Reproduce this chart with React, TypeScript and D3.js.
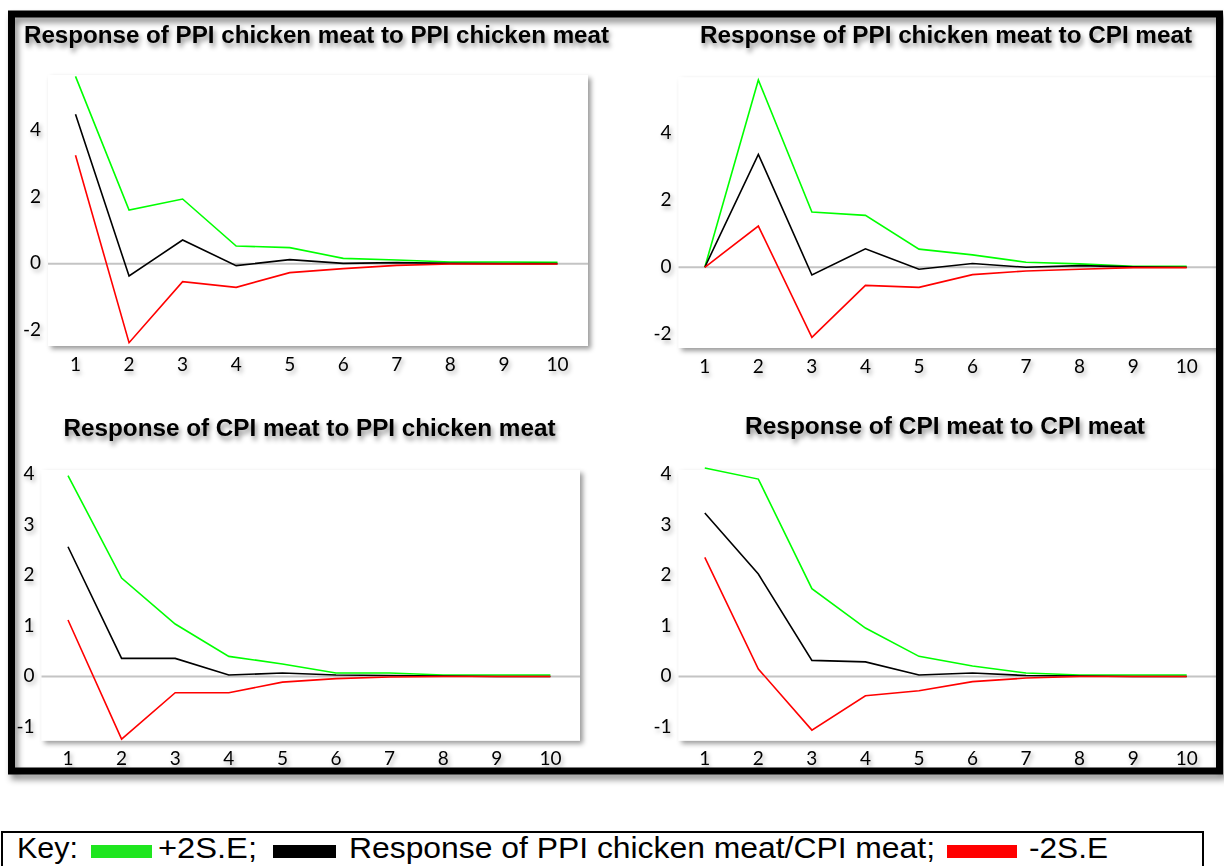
import React from "react";
import * as d3 from "d3";

// Forecast horizon (periods)
const periods = [1, 2, 3, 4, 5, 6, 7, 8, 9, 10];

// Response of PPI chicken meat to PPI chicken meat
const ppiPpiUpper = [5.62, 1.61, 1.94, 0.53, 0.48, 0.16, 0.11, 0.05, 0.05, 0.04];
const ppiPpiResponse = [4.48, -0.37, 0.71, -0.06, 0.12, 0.01, 0.03, 0.01, 0.0, 0.0];
const ppiPpiLower = [3.25, -2.37, -0.54, -0.71, -0.27, -0.15, -0.05, -0.01, -0.01, -0.01];

// Response of PPI chicken meat to CPI meat
const ppiCpiUpper = [0, 5.59, 1.65, 1.55, 0.54, 0.37, 0.15, 0.1, 0.03, 0.03];
const ppiCpiResponse = [0, 3.37, -0.23, 0.55, -0.06, 0.11, 0.0, 0.05, 0.01, 0.0];
const ppiCpiLower = [0, 1.23, -2.09, -0.54, -0.6, -0.22, -0.11, -0.06, -0.01, -0.01];

// Response of CPI meat to PPI chicken meat
const cpiPpiUpper = [3.98, 1.95, 1.04, 0.4, 0.25, 0.07, 0.07, 0.03, 0.03, 0.03];
const cpiPpiResponse = [2.57, 0.36, 0.36, 0.03, 0.07, 0.03, 0.02, 0.01, 0.0, 0.0];
const cpiPpiLower = [1.12, -1.24, -0.32, -0.32, -0.11, -0.04, -0.01, 0.0, 0.0, 0.0];

// Response of CPI meat to CPI meat
const cpiCpiUpper = [4.13, 3.91, 1.74, 0.96, 0.4, 0.21, 0.07, 0.03, 0.03, 0.03];
const cpiCpiResponse = [3.24, 2.03, 0.32, 0.29, 0.03, 0.07, 0.02, 0.01, 0.0, 0.0];
const cpiCpiLower = [2.36, 0.15, -1.06, -0.38, -0.28, -0.1, -0.03, 0.0, 0.0, 0.0];

// Axis ticks
const ppiYTicks = [-2, 0, 2, 4];
const cpiYTicks = [-1, 0, 1, 2, 3, 4];

// Key entries
const keyItems = ["+2S.E;", "Response of PPI chicken meat/CPI meat;", "-2S.E"];

const UPPER = "#00ff00";
const RESP = "#000000";
const LOWER = "#ff0000";

type Panel = {
  title: string;
  titleX: [number, number];
  titleY: number;
  box: { x0: number; x1: number; y0: number; y1: number };
  xRange: [number, number];
  yDomain: [number, number];
  yTicks: number[];
  upper: number[];
  response: number[];
  lower: number[];
};

const panels: Panel[] = [
  {
    title: "Response of PPI chicken meat to PPI chicken meat",
    titleX: [24, 609],
    titleY: 42.5,
    box: { x0: 48, x1: 588, y0: 75, y1: 346 },
    xRange: [75.5, 557.5],
    yDomain: [-2.47, 5.66],
    yTicks: ppiYTicks,
    upper: ppiPpiUpper,
    response: ppiPpiResponse,
    lower: ppiPpiLower,
  },
  {
    title: "Response of PPI chicken meat to CPI meat",
    titleX: [700, 1192],
    titleY: 43,
    box: { x0: 678.5, x1: 1217, y0: 77.3, y1: 348 },
    xRange: [704.8, 1186.7],
    yDomain: [-2.41, 5.67],
    yTicks: ppiYTicks,
    upper: ppiCpiUpper,
    response: ppiCpiResponse,
    lower: ppiCpiLower,
  },
  {
    title: "Response of CPI meat to PPI chicken meat",
    titleX: [63.5, 555.5],
    titleY: 436,
    box: { x0: 41.5, x1: 580, y0: 470, y1: 740.7 },
    xRange: [68, 550.4],
    yDomain: [-1.27, 4.09],
    yTicks: cpiYTicks,
    upper: cpiPpiUpper,
    response: cpiPpiResponse,
    lower: cpiPpiLower,
  },
  {
    title: "Response of CPI meat to CPI meat",
    titleX: [745, 1145],
    titleY: 434.3,
    box: { x0: 678.5, x1: 1217, y0: 470, y1: 740.7 },
    xRange: [704.8, 1186.7],
    yDomain: [-1.27, 4.09],
    yTicks: cpiYTicks,
    upper: cpiCpiUpper,
    response: cpiCpiResponse,
    lower: cpiCpiLower,
  },
];

function PanelChart({ p }: { p: Panel }) {
  const x = d3.scaleLinear().domain([1, 10]).range(p.xRange);
  const y = d3.scaleLinear().domain(p.yDomain).range([p.box.y1, p.box.y0]);
  const line = (vals: number[]) =>
    d3
      .line<number>()
      .x((_, i) => x(periods[i]))
      .y((v) => y(v))(vals) || "";

  return (
    <g>
      <rect
        x={p.box.x0}
        y={p.box.y0}
        width={p.box.x1 - p.box.x0}
        height={p.box.y1 - p.box.y0}
        fill="#ffffff"
        filter="url(#boxShadow)"
      />
      <line
        x1={p.box.x0}
        x2={p.box.x1}
        y1={y(0)}
        y2={y(0)}
        stroke="#c4c4c4"
        strokeWidth={2}
      />
      <path d={line(p.upper)} fill="none" stroke={UPPER} strokeWidth={1.6} />
      <path d={line(p.response)} fill="none" stroke={RESP} strokeWidth={1.6} />
      <path d={line(p.lower)} fill="none" stroke={LOWER} strokeWidth={1.6} />
      <g filter="url(#tickShadow)" fontFamily="Lato, 'Open Sans', sans-serif" fontSize={19} fill="#000">
        {p.yTicks.map((t) => (
          <text
            key={"y" + t}
            x={p.box.x0 - 7}
            y={y(t) - 2}
            textAnchor="end"
            dominantBaseline="central"
          >
            {t}
          </text>
        ))}
        {periods.map((t) => (
          <text
            key={"x" + t}
            x={x(t)}
            y={p.box.y1 + 17}
            textAnchor="middle"
            dominantBaseline="central"
          >
            {t}
          </text>
        ))}
      </g>
      <text
        x={p.titleX[0]}
        y={p.titleY}
        textLength={p.titleX[1] - p.titleX[0]}
        lengthAdjust="spacingAndGlyphs"
        fontFamily="'Liberation Sans', Arial, sans-serif"
        fontWeight="bold"
        fontSize={23}
        fill="#000"
        filter="url(#titleShadow)"
      >
        {p.title}
      </text>
    </g>
  );
}

export default function App() {
  const keyFont = "'Liberation Sans', Arial, sans-serif";
  return (
    <svg
      width={1224}
      height={866}
      viewBox="0 0 1224 866"
      style={{ position: "absolute", left: 0, top: 0, display: "block", background: "#fff" }}
    >
      <defs>
        <filter id="boxShadow" x="-5%" y="-5%" width="115%" height="115%">
          <feDropShadow dx={3} dy={3} stdDeviation={2.5} floodColor="#000" floodOpacity={0.4} />
        </filter>
        <filter id="titleShadow" x="-5%" y="-30%" width="115%" height="180%">
          <feDropShadow dx={2} dy={4} stdDeviation={2.6} floodColor="#000" floodOpacity={0.45} />
        </filter>
        <filter id="tickShadow" x="-20%" y="-20%" width="150%" height="150%">
          <feDropShadow dx={2} dy={3} stdDeviation={2} floodColor="#000" floodOpacity={0.3} />
        </filter>
        <filter id="frameShadow" x="-5%" y="-5%" width="110%" height="115%">
          <feDropShadow dx={3} dy={5} stdDeviation={3} floodColor="#000" floodOpacity={0.45} />
        </filter>
      </defs>

      <rect x={0} y={0} width={1224} height={866} fill="#fff" />

      {panels.map((p) => (
        <PanelChart key={p.title} p={p} />
      ))}

      {/* outer frame around the four panels */}
      <rect
        x={11.5}
        y={14}
        width={1208}
        height={757}
        fill="none"
        stroke="#000"
        strokeWidth={7}
        filter="url(#frameShadow)"
      />

      {/* key */}
      <rect x={2} y={832} width={1201} height={50} fill="#fff" stroke="#000" strokeWidth={2} />
      <g fontFamily={keyFont} fontSize={29} fill="#000">
        <text x={17} y={858} textLength={61} lengthAdjust="spacingAndGlyphs">Key:</text>
        <rect x={91} y={845} width={61} height={13} fill="#1fe61f" />
        <text x={158} y={858} textLength={99} lengthAdjust="spacingAndGlyphs">{keyItems[0]}</text>
        <rect x={273} y={845} width={63} height={13} fill="#000" />
        <text x={349} y={858} textLength={586} lengthAdjust="spacingAndGlyphs">{keyItems[1]}</text>
        <rect x={947} y={845} width={70} height={13} fill="#ff0000" />
        <text x={1029} y={858} textLength={79} lengthAdjust="spacingAndGlyphs">{keyItems[2]}</text>
      </g>
    </svg>
  );
}
